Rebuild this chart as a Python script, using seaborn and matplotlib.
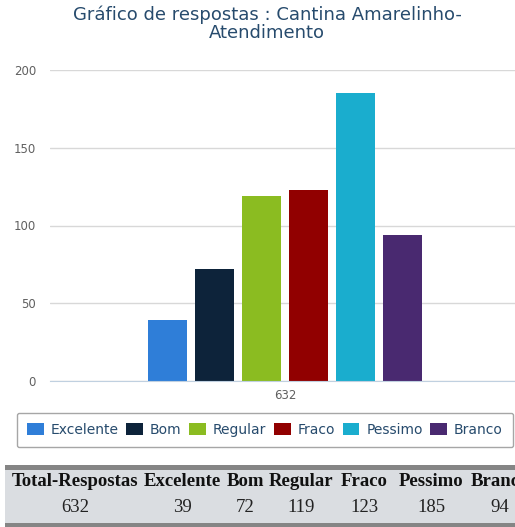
import pandas as pd
import matplotlib
matplotlib.use('Agg')
import matplotlib.pyplot as plt
import seaborn as sns
from matplotlib.patches import Rectangle

categorias = ['Excelente', 'Bom', 'Regular', 'Fraco', 'Pessimo', 'Branco']
respostas = [39, 72, 119, 123, 185, 94]
total = 632
cores = ['#2f7ed8', '#0d233a', '#8bbc21', '#910000', '#1aadce', '#492970']

df = pd.DataFrame({'total': [str(total)] * len(categorias),
                   'categoria': categorias,
                   'respostas': respostas})

sns.set_style('white')
plt.rcParams['font.family'] = ['DejaVu Sans']

W, H = 515, 527
fig = plt.figure(figsize=(W / 100, H / 100), dpi=100)
# area do grafico (pixels: x 50..520, y 70..381)
ax = fig.add_axes([50 / W, 1 - 381 / H, 470 / W, 311 / H])

sns.barplot(data=df, x='total', y='respostas', hue='categoria',
            palette=cores, width=0.6, gap=0.19, saturation=1,
            linewidth=0, ax=ax)

ax.set_ylim(0, 200)
ax.set_yticks([0, 50, 100, 150, 200])
ax.yaxis.grid(True, color='#d8d8d8', linewidth=1)
ax.set_axisbelow(True)
for s in ['top', 'right', 'left']:
    ax.spines[s].set_visible(False)
ax.spines['bottom'].set_color('#c0d0e0')
ax.tick_params(axis='y', length=0, pad=10, labelsize=8.5, labelcolor='#606060')
ax.tick_params(axis='x', length=5, color='#c0d0e0', labelsize=8.5, labelcolor='#606060', pad=1)
ax.set_xlabel('')
ax.set_ylabel('')

fig.text(267 / W, 1 - 6 / H, 'Gráfico de respostas : Cantina Amarelinho-\nAtendimento',
         ha='center', va='top', fontsize=13, color='#274b6d', linespacing=1.0)

handles, labels = ax.get_legend_handles_labels()
leg = ax.legend(handles, labels, loc='center', bbox_to_anchor=(265 / W, 1 - 430 / H),
                bbox_transform=fig.transFigure, ncol=6, fontsize=10,
                handlelength=1.2, handleheight=0.95, handletextpad=0.5,
                columnspacing=0.55, borderpad=0.75, frameon=True, fancybox=True,
                edgecolor='#909090', labelcolor='#274b6d')
leg.get_frame().set_linewidth(1)

# tabela de resumo
fig.patches.append(Rectangle((5 / W, 0), 1, 1 - 465 / H, transform=fig.transFigure,
                             facecolor='#dadde1', edgecolor='none', zorder=0))
fig.patches.append(Rectangle((5 / W, 1 - 470 / H), 1, 5 / H, transform=fig.transFigure,
                             facecolor='#858585', edgecolor='none', zorder=1))
fig.patches.append(Rectangle((5 / W, 0), 1, 4 / H, transform=fig.transFigure,
                             facecolor='#858585', edgecolor='none', zorder=1))

cabecalho = ['Total-Respostas'] + categorias
valores = [str(total)] + [str(v) for v in respostas]
centros = [75, 182, 245, 301, 364, 431, 500]
for cx, c, v in zip(centros, cabecalho, valores):
    fig.text(cx / W, 1 - 482 / H, c, ha='center', va='center', fontsize=13.5,
             fontweight='bold', family='Liberation Serif', color='#111111')
    fig.text(cx / W, 1 - 507 / H, v, ha='center', va='center', fontsize=13.5,
             family='Liberation Serif', color='#222222')

fig.savefig('out.png', dpi=100)
